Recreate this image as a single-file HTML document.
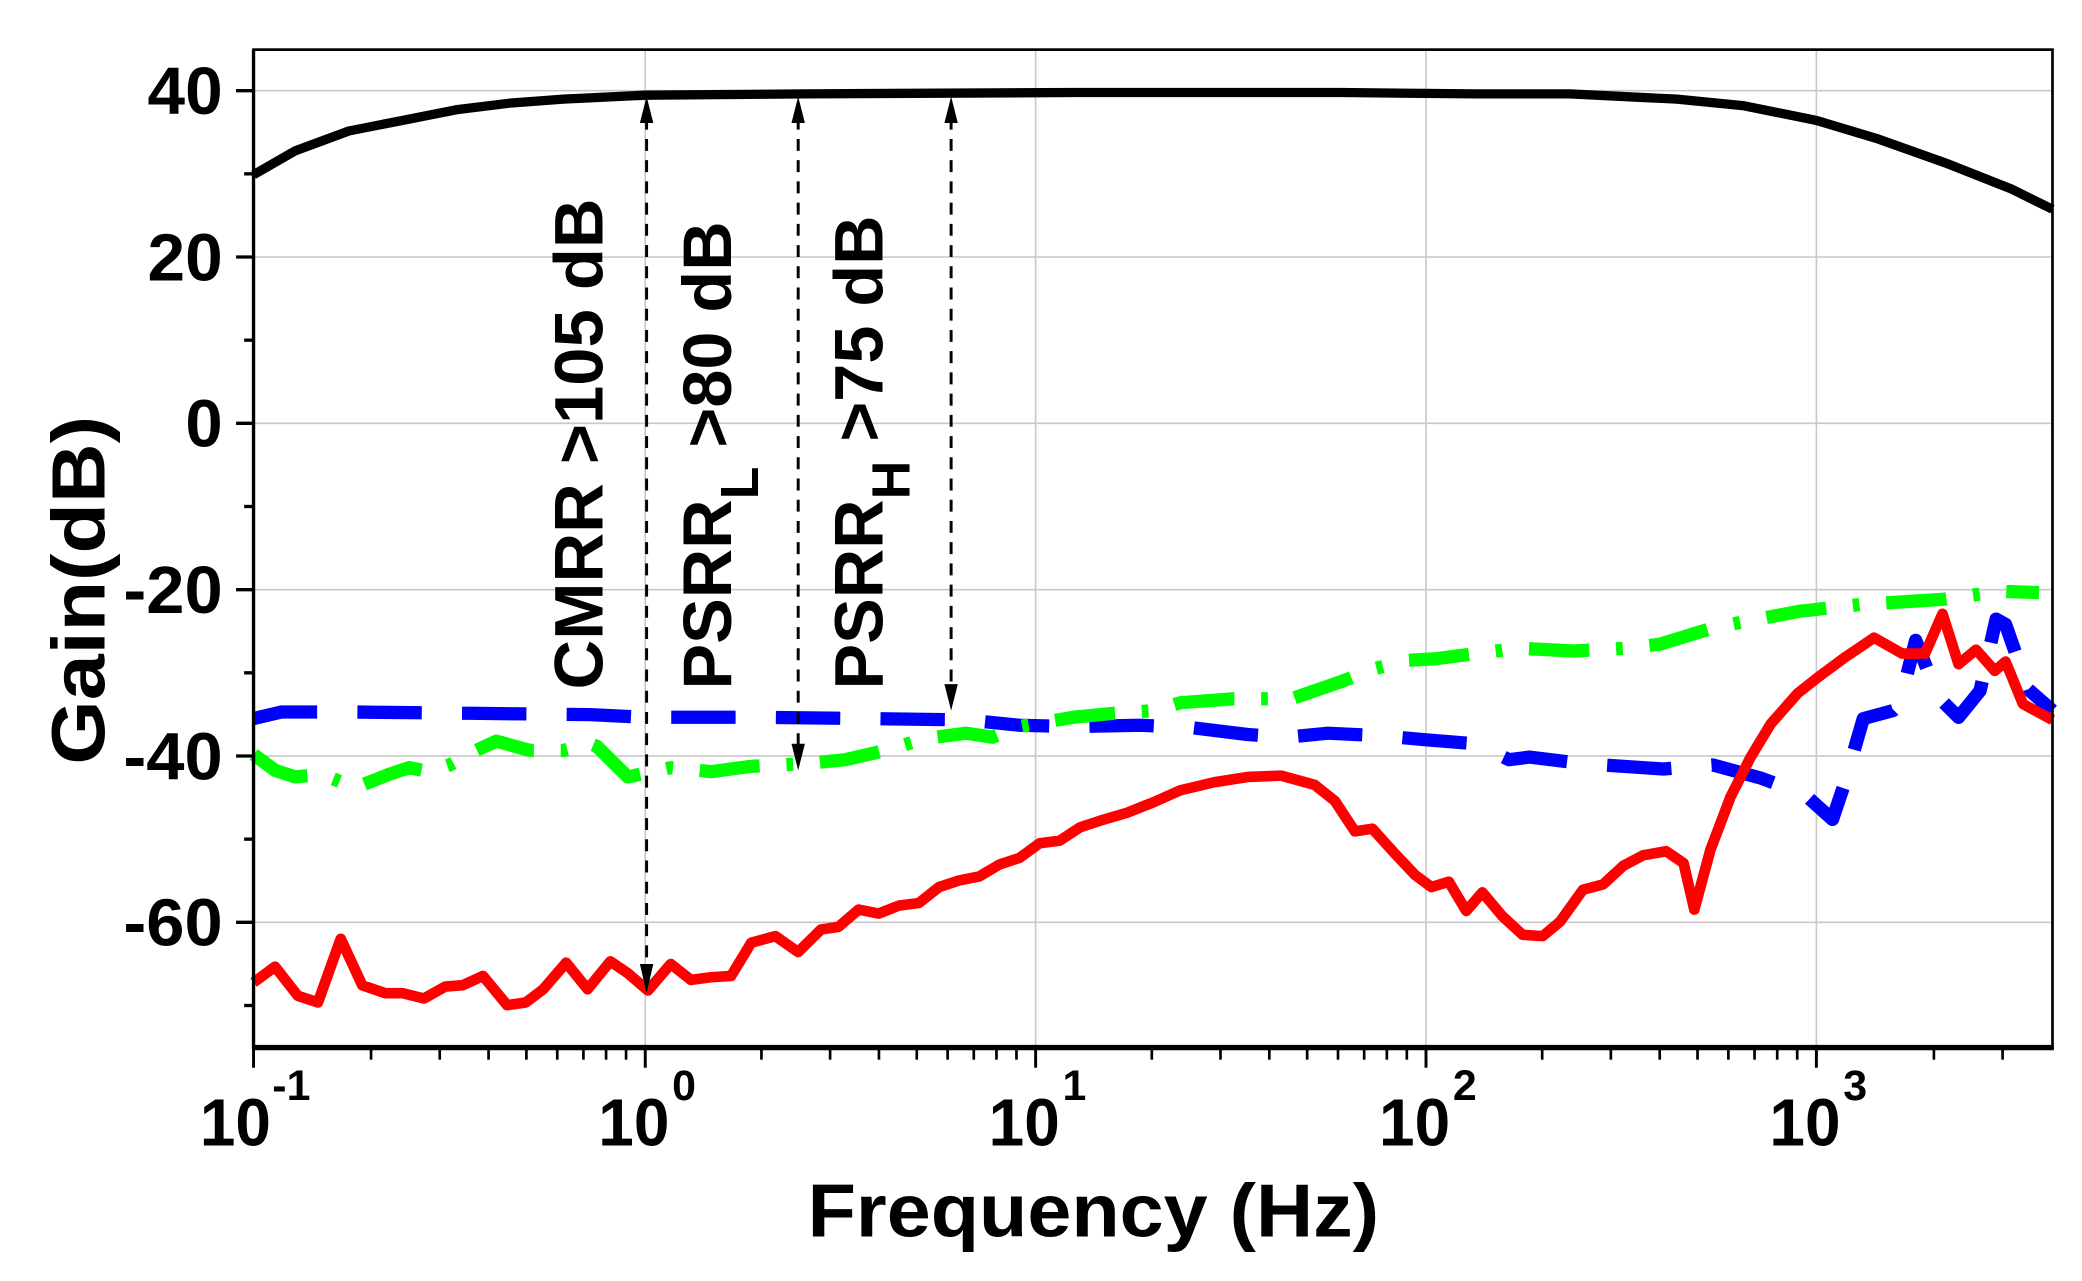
<!DOCTYPE html>
<html><head><meta charset="utf-8"><style>
html,body{margin:0;padding:0;background:#fff;}
svg{display:block;}
text{font-family:"Liberation Sans",Arial,sans-serif;font-weight:bold;fill:#000;}
</style></head><body>
<svg width="2082" height="1281" viewBox="0 0 1552 955" preserveAspectRatio="none" xmlns="http://www.w3.org/2000/svg">
<rect width="1552" height="955" fill="#fff"/>
<g stroke="#c8c8c8" stroke-width="1.2">
<line x1="189" y1="67.6" x2="1530" y2="67.6"/>
<line x1="189" y1="191.6" x2="1530" y2="191.6"/>
<line x1="189" y1="315.6" x2="1530" y2="315.6"/>
<line x1="189" y1="439.6" x2="1530" y2="439.6"/>
<line x1="189" y1="563.6" x2="1530" y2="563.6"/>
<line x1="189" y1="687.6" x2="1530" y2="687.6"/>
<line x1="481" y1="37" x2="481" y2="781"/>
<line x1="772" y1="37" x2="772" y2="781"/>
<line x1="1063" y1="37" x2="1063" y2="781"/>
<line x1="1354" y1="37" x2="1354" y2="781"/>
</g>
<g transform="translate(0,0.76) scale(1,0.98884)" fill="none" stroke-linejoin="round">
<polyline stroke="#000" stroke-width="7" points="189,131 220,113 260,98 300,90 340,82 380,77 420,74 481,71 600,70 800,69 1000,69 1100,70 1170,70 1250,74 1300,79 1354,90 1400,104 1450,122 1500,142 1530,157"/>
<polyline stroke="#0000ff" stroke-width="10" stroke-dasharray="48,30" points="189,541 210,536 260,536 350,537 440,538 481,540 560,540 650,541 720,542 760,546 800,547 850,546 890,548 930,553 960,555 990,552 1030,554 1063,557 1100,560 1125,572 1140,570 1180,575 1240,579 1277,576 1313,586 1345,598 1366,617 1374,593 1389,541 1400,538 1411,535 1416,530 1428,482 1445,525 1460,540 1476,520 1488,466 1495,470 1512,519 1530,535"/>
<polyline stroke="#00ff00" stroke-width="10" stroke-dasharray="45,20,5,20" points="189,568 205,580 220,585 240,583 265,593 290,583 305,578 320,581 335,576 355,565 370,558 395,565 420,565 440,560 445,562 468,585 500,578 530,581 560,577 600,575 630,572 660,565 690,556 720,552 740,555 760,547 800,540 830,537 860,535 880,529 920,526 963,526 1000,513 1026,503 1050,497 1069,496 1100,492 1132,488 1173,490 1210,488 1237,485 1279,472 1342,460 1387,455 1449,451 1491,445 1520,446"/>
<polyline stroke="#ff0000" stroke-width="8" points="189,740 205,728 222,750 237,755 254,707 270,742 287,748 300,748 316,752 332,743 345,742 360,735 378,757 392,755 405,745 422,725 438,745 455,724 468,733 483,746 500,726 515,738 530,736 545,735 560,710 578,705 595,717 612,700 625,698 640,685 655,688 670,682 685,680 700,668 715,663 730,660 745,651 760,646 775,635 790,633 805,623 820,618 840,612 860,604 880,595 905,589 930,585 955,584 980,591 995,603 1010,626 1023,624 1040,643 1055,659 1067,668 1080,664 1093,686 1105,672 1120,690 1135,704 1150,705 1163,694 1180,670 1195,666 1210,652 1225,644 1242,641 1255,650 1263,685 1275,640 1290,600 1305,570 1320,545 1340,522 1355,510 1375,495 1397,480 1418,492 1435,492 1448,462 1460,500 1473,489 1487,505 1495,498 1508,530 1530,542"/>
<g stroke="#000" stroke-width="2.2" stroke-dasharray="9,7">
<line x1="482" y1="88" x2="482" y2="728"/>
<line x1="595" y1="88" x2="595" y2="562"/>
<line x1="709" y1="88" x2="709" y2="518"/>
</g>
<g fill="#000" stroke="none">
<polygon points="482,72 477,92 487,92"/><polygon points="482,748 477,726 487,726"/>
<polygon points="595,72 590,92 600,92"/><polygon points="595,580 590,560 600,560"/>
<polygon points="709,72 704,92 714,92"/><polygon points="709,535 704,515 714,515"/>
</g>
</g>
<rect x="189" y="37" width="1341" height="744" fill="none" stroke="#000" stroke-width="2"/>
<line x1="188" y1="781" x2="1531" y2="781" stroke="#000" stroke-width="4"/>
<line x1="189" y1="37" x2="189" y2="782" stroke="#000" stroke-width="2.5"/>
<g stroke="#000" stroke-width="2.5">
<line x1="176" y1="67.6" x2="189" y2="67.6"/><line x1="176" y1="191.6" x2="189" y2="191.6"/>
<line x1="176" y1="315.6" x2="189" y2="315.6"/><line x1="176" y1="439.6" x2="189" y2="439.6"/>
<line x1="176" y1="563.6" x2="189" y2="563.6"/><line x1="176" y1="687.6" x2="189" y2="687.6"/>
<line x1="182" y1="129.6" x2="189" y2="129.6"/><line x1="182" y1="253.6" x2="189" y2="253.6"/>
<line x1="182" y1="377.6" x2="189" y2="377.6"/><line x1="182" y1="501.6" x2="189" y2="501.6"/>
<line x1="182" y1="625.6" x2="189" y2="625.6"/><line x1="182" y1="749.6" x2="189" y2="749.6"/>
</g>
<g stroke="#000" stroke-width="2.2">
<line x1="189" y1="781" x2="189" y2="796"/><line x1="481" y1="781" x2="481" y2="796"/><line x1="772" y1="781" x2="772" y2="796"/><line x1="1063" y1="781" x2="1063" y2="796"/><line x1="1354" y1="781" x2="1354" y2="796"/>
</g>
<g stroke="#000" stroke-width="2" id="minor">
<line x1="276.6" y1="781" x2="276.6" y2="790"/><line x1="327.8" y1="781" x2="327.8" y2="790"/><line x1="364.2" y1="781" x2="364.2" y2="790"/><line x1="392.4" y1="781" x2="392.4" y2="790"/><line x1="415.4" y1="781" x2="415.4" y2="790"/><line x1="434.9" y1="781" x2="434.9" y2="790"/><line x1="451.8" y1="781" x2="451.8" y2="790"/><line x1="466.7" y1="781" x2="466.7" y2="790"/>
</g>
<use href="#minor" x="291"/><use href="#minor" x="582"/><use href="#minor" x="873"/>
<g stroke="#000" stroke-width="2"><line x1="1441.6" y1="781" x2="1441.6" y2="790"/><line x1="1492.8" y1="781" x2="1492.8" y2="790"/></g>
<g font-size="50" text-anchor="end">
<text x="166" y="85" textLength="56" lengthAdjust="spacingAndGlyphs">40</text>
<text x="166" y="209" textLength="56" lengthAdjust="spacingAndGlyphs">20</text>
<text x="166" y="333">0</text>
<text x="166" y="457" textLength="74" lengthAdjust="spacingAndGlyphs">-20</text>
<text x="166" y="581" textLength="74" lengthAdjust="spacingAndGlyphs">-40</text>
<text x="166" y="705" textLength="74" lengthAdjust="spacingAndGlyphs">-60</text>
</g>
<g font-size="50">
<text x="149" y="854" textLength="53" lengthAdjust="spacingAndGlyphs">10</text><text x="203" y="820" font-size="32">-1</text>
<text x="446" y="854" textLength="53" lengthAdjust="spacingAndGlyphs">10</text><text x="501" y="820" font-size="32">0</text>
<text x="737" y="854" textLength="53" lengthAdjust="spacingAndGlyphs">10</text><text x="792" y="820" font-size="32">1</text>
<text x="1028" y="854" textLength="53" lengthAdjust="spacingAndGlyphs">10</text><text x="1083" y="820" font-size="32">2</text>
<text x="1319" y="854" textLength="53" lengthAdjust="spacingAndGlyphs">10</text><text x="1374" y="820" font-size="32">3</text>
</g>
<text x="815" y="922" font-size="56" text-anchor="middle" textLength="426" lengthAdjust="spacingAndGlyphs">Frequency (Hz)</text>
<text transform="translate(78,440) rotate(-90)" font-size="56" text-anchor="middle" textLength="260" lengthAdjust="spacingAndGlyphs">Gain(dB)</text>
<g font-size="51">
<text transform="translate(449,514) rotate(-90)" textLength="366" lengthAdjust="spacingAndGlyphs">CMRR &gt;105 dB</text>
<text transform="translate(545,514) rotate(-90)">PSRR<tspan font-size="40" dy="20">L</tspan><tspan dy="-20"> &gt;80 dB</tspan></text>
<text transform="translate(658,514) rotate(-90)">PSRR<tspan font-size="40" dy="20">H</tspan><tspan dy="-20"> &gt;75 dB</tspan></text>
</g>
</svg>
</body></html>
